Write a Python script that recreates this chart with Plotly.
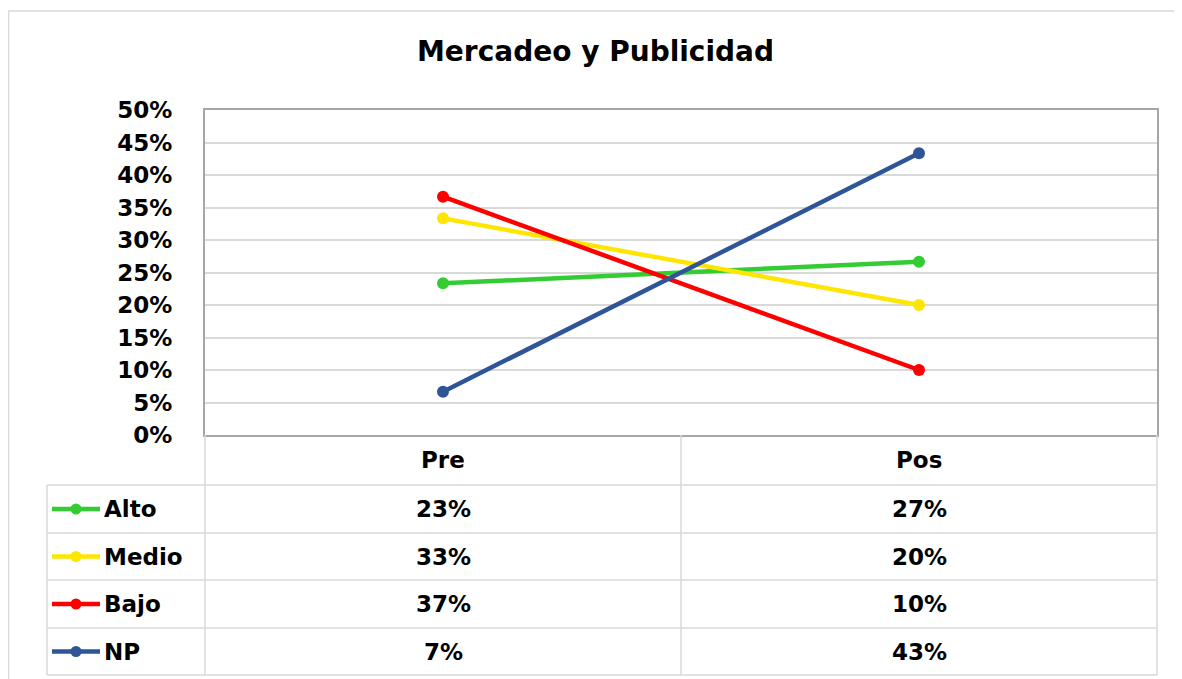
import plotly.graph_objects as go

categories = ["Pre", "Pos"]
series_names = ["Alto", "Medio", "Bajo", "NP"]
alto = [0.2333, 0.2667]
medio = [0.3333, 0.20]
bajo = [0.3667, 0.10]
np_vals = [0.0667, 0.4333]
colors = ["#33CC33", "#FFE600", "#FF0000", "#2F5597"]
y_ticks = [i * 0.05 for i in range(11)]
title_text = "Mercadeo y Publicidad"

series_values = [alto, medio, bajo, np_vals]

OFF = 8  # page body margin
W, H = 1182 - OFF, 679 - OFF
FONT = "DejaVu Sans"


def px(x):
    return (x - OFF) / W


def py(y):
    return 1 - (y - OFF) / H


# layout geometry (reference pixels)
PL, PR, PT, PB = 205, 1157, 110, 435
TL = 47
row_lines = [485, 533, 580, 628, 675]
col_mid = 681

fig = go.Figure()
for name, vals, col in zip(series_names, series_values, colors):
    fig.add_trace(go.Scatter(
        x=categories, y=vals, mode="lines+markers", name=name,
        line=dict(color=col, width=4.5), marker=dict(color=col, size=12),
        showlegend=False, xaxis="x", yaxis="y"))

shapes = []
grid = "#D9D9D9"
# outer chart border
shapes.append(dict(type="rect", xref="paper", yref="paper",
                   x0=px(8.5), x1=px(1180), y0=py(700), y1=py(11),
                   line=dict(color="#D9D9D9", width=1.5)))
# table lines
for yl in row_lines:
    shapes.append(dict(type="line", xref="paper", yref="paper",
                       x0=px(TL), x1=px(PR), y0=py(yl), y1=py(yl),
                       line=dict(color=grid, width=1.5)))
shapes.append(dict(type="line", xref="paper", yref="paper",
                   x0=px(TL), x1=px(TL), y0=py(row_lines[0]), y1=py(row_lines[-1]),
                   line=dict(color=grid, width=1.5)))
for xv in [PL, col_mid, PR]:
    shapes.append(dict(type="line", xref="paper", yref="paper",
                       x0=px(xv), x1=px(xv), y0=py(PB), y1=py(row_lines[-1]),
                       line=dict(color=grid, width=1.5)))

annotations = []
# title
annotations.append(dict(text="<b>" + title_text + "</b>", xref="paper", yref="paper",
                        x=px(595), y=py(52), showarrow=False,
                        font=dict(family=FONT, size=28, color="black"),
                        xanchor="center", yanchor="middle"))
col_centers = [(PL + col_mid) / 2, (col_mid + PR) / 2]
header_y = (PB + row_lines[0]) / 2
TFS = 23
for c, cx in zip(categories, col_centers):
    annotations.append(dict(text="<b>" + c + "</b>", xref="paper", yref="paper",
                            x=px(cx), y=py(header_y), showarrow=False,
                            font=dict(family=FONT, size=TFS, color="black"),
                            xanchor="center", yanchor="middle"))
for i, (name, vals, col) in enumerate(zip(series_names, series_values, colors)):
    yc = (row_lines[i] + row_lines[i + 1]) / 2
    annotations.append(dict(text="<b>" + name + "</b>", xref="paper", yref="paper",
                            x=px(102), y=py(yc), showarrow=False,
                            font=dict(family=FONT, size=TFS, color="black"),
                            xanchor="left", yanchor="middle"))
    # legend key
    shapes.append(dict(type="line", xref="paper", yref="paper",
                       x0=px(52), x1=px(100), y0=py(yc), y1=py(yc),
                       line=dict(color=col, width=4.5)))
    shapes.append(dict(type="circle", xref="paper", yref="paper",
                       x0=px(76 - 5.5), x1=px(76 + 5.5), y0=py(yc + 5.5), y1=py(yc - 5.5),
                       fillcolor=col, line=dict(color=col, width=0)))
    for v, cx in zip(vals, col_centers):
        annotations.append(dict(text="<b>" + f"{round(v * 100):d}%" + "</b>",
                                xref="paper", yref="paper",
                                x=px(cx), y=py(yc), showarrow=False,
                                font=dict(family=FONT, size=TFS, color="black"),
                                xanchor="center", yanchor="middle"))

fig.update_layout(
    width=W, height=H,
    margin=dict(l=0, r=0, t=0, b=0, autoexpand=False),
    paper_bgcolor="white", plot_bgcolor="white",
    xaxis=dict(domain=[px(PL), px(PR)], range=[-0.5, 1.5], type="category",
               showticklabels=False, showgrid=False, zeroline=False,
               showline=True, linecolor="#A6A6A6", linewidth=2, mirror=True,
               ticks="", automargin=False),
    yaxis=dict(domain=[py(PB), py(PT)], range=[0, 0.5], tickvals=y_ticks,
               tickformat=".0%", showgrid=True, gridcolor=grid, gridwidth=1.5,
               zeroline=False, showline=True, linecolor="#A6A6A6", linewidth=2,
               mirror=True, ticks="", ticklabelstandoff=26, automargin=False,
               tickfont=dict(family=FONT, size=TFS, color="black", weight="bold")),
    shapes=shapes, annotations=annotations,
)

fig.write_html("out.html")
